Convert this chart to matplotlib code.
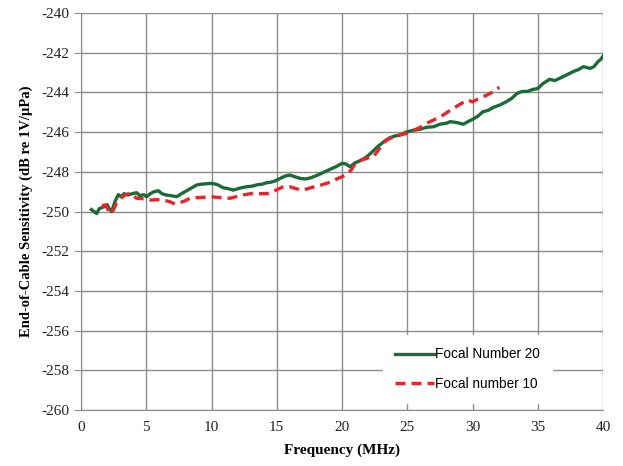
import numpy as np
import matplotlib
matplotlib.use("Agg")
import matplotlib.pyplot as plt

plt.rcParams['axes.unicode_minus'] = False

# Focal Number 20 (green, solid)
f20 = [0.8, 1.0, 1.2, 1.4, 1.6, 1.8, 2.0, 2.2, 2.35, 2.6, 2.86, 3.1, 3.3, 3.6, 3.9,
       4.27, 4.5, 4.8, 5.03, 5.3, 5.6, 5.93, 6.2, 6.56, 6.9, 7.33, 7.7, 8.1, 8.5, 8.87,
       9.2, 9.6, 9.9, 10.2, 10.5, 10.9, 11.3, 11.67, 12.0, 12.3, 12.7, 13.1, 13.5, 13.9,
       14.2, 14.5, 14.9, 15.2, 15.6, 16.0, 16.4, 16.8, 17.2, 17.6, 18.0, 18.5, 19.0, 19.5,
       20.0, 20.3, 20.6, 21.0, 21.5, 21.9, 22.3, 22.7, 23.2, 23.6, 24.0, 24.4, 25.0, 25.5,
       26.0, 26.5, 27.0, 27.5, 28.0, 28.3, 28.8, 29.3, 29.7, 30.0, 30.4, 30.8, 31.2, 31.6,
       32.1, 32.5, 33.0, 33.4, 33.8, 34.2, 34.6, 35.0, 35.4, 35.9, 36.3, 36.8, 37.2, 37.7,
       38.1, 38.5, 39.0, 39.3, 39.6, 39.8, 40.0]
s20 = [-249.9, -250.0, -250.1, -249.85, -249.8, -249.75, -249.65, -249.9, -250.0, -249.5,
       -249.15, -249.25, -249.1, -249.17, -249.1, -249.05, -249.2, -249.15, -249.25, -249.1,
       -249.0, -248.95, -249.1, -249.17, -249.2, -249.25, -249.1, -248.95, -248.8, -248.66,
       -248.62, -248.6, -248.58, -248.6, -248.66, -248.8, -248.85, -248.92, -248.85, -248.8,
       -248.75, -248.72, -248.65, -248.62, -248.55, -248.53, -248.45, -248.35, -248.22, -248.16,
       -248.25, -248.33, -248.36, -248.3, -248.2, -248.05, -247.9, -247.75, -247.57, -247.6,
       -247.74, -247.55, -247.4, -247.24, -247.0, -246.75, -246.48, -246.3, -246.2, -246.15,
       -245.98, -245.9, -245.85, -245.75, -245.73, -245.6, -245.55, -245.47, -245.52, -245.6,
       -245.45, -245.36, -245.2, -244.97, -244.9, -244.75, -244.63, -244.5, -244.3, -244.05,
       -243.95, -243.95, -243.85, -243.8, -243.55, -243.34, -243.4, -243.25, -243.12, -242.95,
       -242.85, -242.7, -242.79, -242.7, -242.45, -242.35, -242.17]

# Focal number 10 (red, dashed)
f10 = [1.6, 1.84, 2.0, 2.2, 2.48, 2.7, 2.86, 3.1, 3.4, 3.75, 4.0, 4.27, 4.7, 5.29, 5.8,
       6.3, 6.8, 7.2, 7.6, 8.0, 8.35, 8.8, 9.4, 9.9, 10.4, 10.9, 11.4, 11.9, 12.5, 13.2,
       13.8, 14.5, 15.0, 15.5, 16.0, 16.5, 17.0, 17.6, 18.2, 18.7, 19.2, 19.6, 20.0, 20.4,
       20.7, 21.1, 21.5, 22.0, 22.4, 22.9, 23.4, 23.9, 24.4, 25.0, 25.5, 26.0, 26.5, 27.0,
       27.6, 28.3, 28.9, 29.6, 30.0, 30.5, 31.1, 31.6, 32.05]
s10 = [-249.7, -249.67, -249.8, -250.1, -249.92, -249.6, -249.5, -249.3, -249.15, -249.08,
       -249.2, -249.33, -249.35, -249.42, -249.4, -249.42, -249.5, -249.62, -249.55, -249.45,
       -249.33, -249.3, -249.28, -249.25, -249.28, -249.3, -249.33, -249.25, -249.15, -249.08,
       -249.1, -249.08, -248.9, -248.75, -248.75, -248.85, -248.92, -248.8, -248.7, -248.6,
       -248.5, -248.35, -248.25, -248.1, -247.9, -247.5, -247.4, -247.3, -247.24, -246.8,
       -246.4, -246.25, -246.15, -246.06, -245.9, -245.75, -245.55, -245.39, -245.2, -244.89,
       -244.65, -244.38, -244.47, -244.3, -244.13, -243.95, -243.74]

fig = plt.figure(figsize=(6.23, 4.66), dpi=100)
ax = fig.add_axes([0.130, 0.120, 0.838, 0.852])

ax.plot(f20, s20, color='#1b6b36', lw=2.4, label='Focal Number 20', zorder=3)
ax.plot(f10, s10, color='#e8262a', lw=2.4, ls=(0, (3, 1.8)), label='Focal number 10', zorder=3)

ax.set_xlim(0, 40)
ax.set_ylim(-260, -240)
ax.set_xticks(np.arange(0, 41, 5))
ax.set_yticks(np.arange(-260, -239, 2))
ax.grid(True, color='#8c8c8c', lw=1.0)
ax.set_axisbelow(True)
for side in ['left', 'bottom']:
    ax.spines[side].set_color('#8c8c8c')
ax.spines['right'].set_visible(False)
ax.spines['top'].set_visible(False)
ax.tick_params(colors='#8c8c8c', labelcolor='#222222', labelsize=11)
ax.tick_params(axis='y', length=5)
ax.tick_params(axis='x', length=0, pad=8)
for lab in ax.get_xticklabels() + ax.get_yticklabels():
    lab.set_family('Liberation Serif')

ax.set_xlabel('Frequency (MHz)', family='Liberation Serif', fontweight='bold', fontsize=11, labelpad=7)
ax.set_ylabel('End-of-Cable Sensitivity (dB re 1V/µPa)', family='Liberation Serif',
              fontweight='bold', fontsize=10.5, labelpad=6)

leg = ax.legend(loc='lower right', bbox_to_anchor=(0.915, 0.0), frameon=True,
                fancybox=False, framealpha=1, edgecolor='white', facecolor='white',
                prop={'family': 'Liberation Sans', 'size': 9.8}, handlelength=2.8,
                handletextpad=0.1, labelspacing=1.15, borderpad=0.9)

fig.savefig('out.png', dpi=100)
